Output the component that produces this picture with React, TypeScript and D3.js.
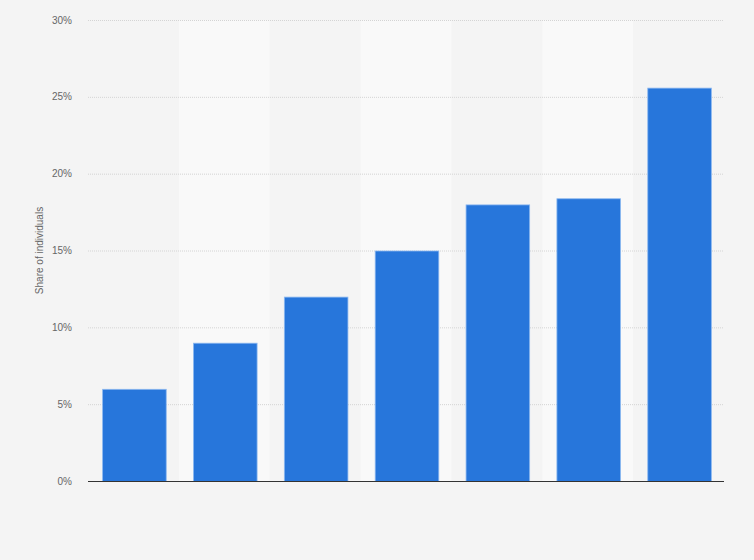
import React, { useEffect, useRef } from 'react';
import * as d3 from 'd3';

const categories = ['A', 'B', 'C', 'D', 'E', 'F', 'G'];
const values = [6, 9, 12, 15, 18, 18.4, 25.6];
const yTicks = [0, 5, 10, 15, 20, 25, 30];
const yLabel = 'Share of individuals';

const width = 754;
const height = 560;
const margin = { top: 20, right: 30, bottom: 79, left: 88 };

const App: React.FC = () => {
  const svgRef = useRef<SVGSVGElement | null>(null);

  useEffect(() => {
    if (!svgRef.current) return;
    const svg = d3.select(svgRef.current);
    svg.selectAll('*').remove();

    const x = d3.scaleBand()
      .domain(categories)
      .range([margin.left, width - margin.right])
      .padding(0);

    const y = d3.scaleLinear()
      .domain([0, 30])
      .range([height - margin.bottom, margin.top]);

    svg.append('rect')
      .attr('width', width)
      .attr('height', height)
      .attr('fill', '#f4f4f4');

    // alternating column bands
    svg.append('g')
      .selectAll('rect')
      .data(categories.filter((_, i) => i % 2 === 1))
      .join('rect')
      .attr('x', d => x(d) || 0)
      .attr('y', y(30))
      .attr('width', x.bandwidth())
      .attr('height', y(0) - y(30))
      .attr('fill', '#f9f9f9');

    // grid lines
    svg.append('g')
      .selectAll('line')
      .data(yTicks.filter(t => t > 0))
      .join('line')
      .attr('x1', margin.left)
      .attr('x2', width - margin.right)
      .attr('y1', d => y(d) + 0.5)
      .attr('y2', d => y(d) + 0.5)
      .attr('stroke', '#d4d4d4')
      .attr('stroke-width', 1)
      .attr('stroke-dasharray', '1,1');

    // tick labels
    svg.append('g')
      .selectAll('text')
      .data(yTicks)
      .join('text')
      .attr('x', 72)
      .attr('y', d => y(d))
      .attr('dy', '0.35em')
      .attr('text-anchor', 'end')
      .attr('font-family', '"Liberation Sans", Arial, sans-serif')
      .attr('font-size', 10)
      .attr('fill', '#666')
      .text(d => `${d}%`);

    // bars
    const barW = x.bandwidth() * 0.7;
    svg.append('g')
      .attr('transform', 'translate(1, 0.5)')
      .selectAll('rect')
      .data(values)
      .join('rect')
      .attr('x', (_, i) => (x(categories[i]) || 0) + (x.bandwidth() - barW) / 2)
      .attr('y', d => y(d))
      .attr('width', barW)
      .attr('height', d => y(0) - y(d))
      .attr('fill', '#2776db')
      .attr('stroke', '#8cb8f0')
      .attr('stroke-width', 0.8);

    // baseline
    svg.append('line')
      .attr('x1', margin.left)
      .attr('x2', width - margin.right)
      .attr('y1', y(0) + 0.5)
      .attr('y2', y(0) + 0.5)
      .attr('stroke', '#333')
      .attr('stroke-width', 1);

    // y axis title
    svg.append('text')
      .attr('transform', `translate(43, ${(y(0) + y(30)) / 2}) rotate(-90)`)
      .attr('text-anchor', 'middle')
      .attr('font-family', '"Liberation Sans", Arial, sans-serif')
      .attr('font-size', 10)
      .attr('fill', '#666')
      .text(yLabel);
  }, []);

  return (
    <svg
      ref={svgRef}
      width={width}
      height={height}
      style={{ position: 'absolute', left: 0, top: 0, display: 'block' }}
    />
  );
};

export default App;
